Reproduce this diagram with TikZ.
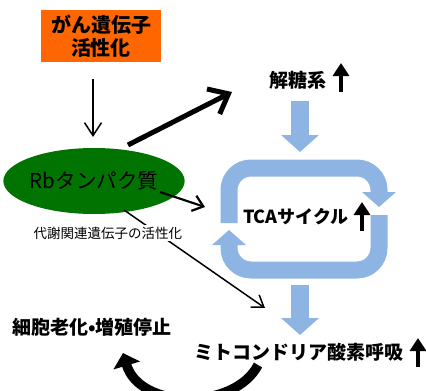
\documentclass[tikz,border=0pt]{standalone}
\usepackage{fontspec}
\newfontfamily\jp{Noto Sans CJK JP}
\usetikzlibrary{arrows.meta,shapes.geometric}
\definecolor{orng}{RGB}{255,102,0}
\definecolor{grn}{RGB}{0,115,0}
\definecolor{lblue}{RGB}{141,180,226}
\begin{document}
\begin{tikzpicture}[x=1pt,y=-1pt,
  jpb/.style={font=\jp\bfseries\fontsize{19}{22}\selectfont, inner sep=0pt, text=black},
  band/.style={draw=lblue, line width=17pt},
  bluearrow/.style={draw=lblue, line width=18pt, -{Triangle[width=37pt,length=17pt]}},
  uparr/.style={line width=4.5pt, -{Triangle[width=16pt,length=13pt]}},
]
\useasboundingbox (0,0) rectangle (426,391);

% nodes
\node[jpb, fill=orng, minimum width=120pt, minimum height=52pt, align=center,
      font=\jp\bfseries\fontsize{20}{22.5}\selectfont] (onc) at (101,36) {がん遺伝子\\活性化};
\node[ellipse, fill=grn, minimum width=134pt, minimum height=66pt, inner sep=0pt,
      font=\jp\fontsize{20.5}{24}\selectfont] (rb) at (94,181) {Rbタンパク質};
\node[jpb] (glyco) at (298,80) {解糖系};
\node[jpb, font=\jp\bfseries\fontsize{18}{20}\selectfont] (tca) at (296,217) {TCAサイクル};
\node[jpb] (mito) at (299,352) {ミトコンドリア酸素呼吸};
\node[jpb] (sen) at (92,327) {細胞老化•増殖停止};

% coordinates for connector ends
\coordinate (rbTop) at (128,145);
\coordinate (glyIn) at (232,92);
\coordinate (rbRight) at (160,192);
\coordinate (tcaIn) at (205,207);
\coordinate (rbBot) at (124,210);
\coordinate (mitoIn) at (265,308);
\coordinate (mitoOut) at (258,365);
\coordinate (senIn) at (123,353);
\coordinate (oncOut) at (93,79);
\coordinate (rbIn) at (93,137);

% connectors
\draw[line width=1.5pt, -{Straight Barb[length=13pt,width=17pt]}] (oncOut) -- (rbIn);
\draw[line width=5pt, -{Straight Barb[length=17pt,width=28pt]}] (rbTop) -- (glyIn);
\draw[line width=2.2pt, -{Straight Barb[length=10pt,width=16pt]}] (rbRight) -- (tcaIn);
\draw[line width=1.5pt, -{Straight Barb[length=11pt,width=15pt]}] (rbBot) -- (mitoIn);
\node[fill=white, inner sep=2pt, font=\jp\fontsize{13.5}{16}\selectfont] (lbl) at (108,233) {代謝関連遺伝子の活性化};

% glycolysis -> TCA arrow
\draw[bluearrow] (300,101) -- (300,152);
% TCA -> mito arrow
\draw[bluearrow] (300,285) -- (300,335);

% TCA cycle band
\draw[band] (229,223) [rounded corners=22pt] -- (229,168) -- (379,168) -- (379,192.5);
\fill[lblue] (362,192) -- (396,192) -- (379,207) -- cycle;
\draw[band] (379,215) [rounded corners=22pt] -- (379,270) -- (229,270) -- (229,244.5);
\fill[lblue] (212,245) -- (246,245) -- (229,230) -- cycle;

% up arrows
\draw[uparr] (341,92) -- (341,63);
\draw[uparr] (362,231) -- (362,202);
\draw[uparr] (418,367) -- (418,338);

% curved arrow
\draw[line width=9.5pt, -{Triangle[width=27pt,length=13pt]}] (mitoOut) .. controls (235,410) and (140,410) .. (senIn);
\end{tikzpicture}
\end{document}
